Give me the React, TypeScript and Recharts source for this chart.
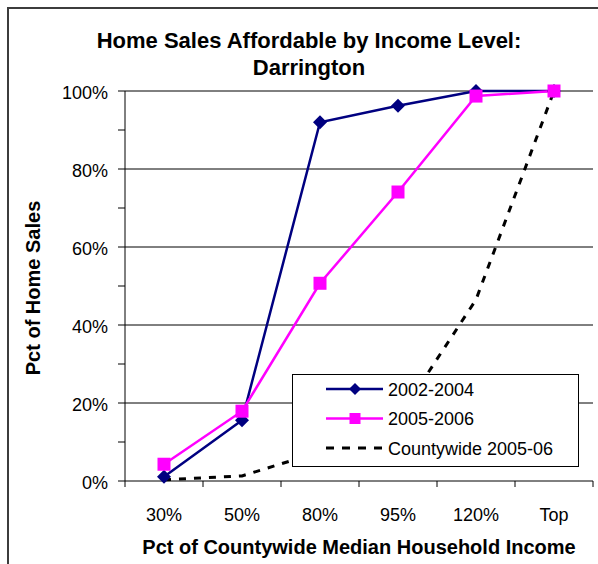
import React from 'react';
import { LineChart, Line, XAxis, YAxis, CartesianGrid, Legend } from 'recharts';

const categories = ['30%', '50%', '80%', '95%', '120%', 'Top'];
const sales2002to2004 = [1.1, 15.6, 92, 96.2, 100, 100];
const sales2005to2006 = [4.3, 17.9, 50.7, 74.1, 98.7, 100];
const countywide2005to06 = [0.3, 1.3, 7.5, 16, 46.5, 100];
const yTicks = [0, 10, 20, 30, 40, 50, 60, 70, 80, 90, 100];
const gridValues = [20, 40, 60, 80, 100];
const seriesNames = ['2002-2004', '2005-2006', 'Countywide 2005-06'];

const NAVY = '#000080';
const MAGENTA = '#FF00FF';
const FONT = '"Liberation Sans", Arial, Helvetica, sans-serif';
const HALF_STEP = 39; // half a category width: Excel puts x ticks between categories

const data = categories.map((cat, i) => ({
  cat,
  early: sales2002to2004[i],
  late: sales2005to2006[i],
  county: countywide2005to06[i],
}));

const renderDiamond = (p: any) => (
  <path
    key={`d${p.index}`}
    d={`M${p.cx},${p.cy - 7}L${p.cx + 7},${p.cy}L${p.cx},${p.cy + 7}L${p.cx - 7},${p.cy}Z`}
    fill={NAVY}
  />
);

const renderSquare = (p: any) => (
  <rect key={`s${p.index}`} x={p.cx - 6.5} y={p.cy - 6.5} width={13} height={13} fill={MAGENTA} />
);

const XTick = (props: any) => {
  const { x, y, payload, index } = props;
  const last = index === categories.length - 1;
  return (
    <g>
      <line x1={x - HALF_STEP} x2={x - HALF_STEP} y1={y} y2={y + 6} stroke="#000" />
      {last && <line x1={x + HALF_STEP} x2={x + HALF_STEP} y1={y} y2={y + 6} stroke="#000" />}
      <text x={x} y={y + 40} textAnchor="middle" fontSize={18} fontFamily={FONT} fill="#000">
        {payload.value}
      </text>
    </g>
  );
};

const YTick = (props: any) => {
  const { x, y, payload } = props;
  if (payload.value % 20 !== 0) return <g />;
  return (
    <text x={x} y={y + 8} textAnchor="end" fontSize={18} fontFamily={FONT} fill="#000">
      {`${payload.value}%`}
    </text>
  );
};

const XTitle = (props: any) => {
  const vb = props.viewBox || { x: 0, y: 0, width: 0, height: 0 };
  return (
    <text x={vb.x + vb.width / 2} y={vb.y + 73} textAnchor="middle" fontSize={20} fontWeight="bold" fontFamily={FONT} fill="#000">
      Pct of Countywide Median Household Income
    </text>
  );
};

const YTitle = (props: any) => {
  const vb = props.viewBox || { x: 0, y: 0, width: 0, height: 0 };
  const cx = vb.x + 40;
  const cy = vb.y + vb.height / 2 + 2;
  return (
    <text x={cx} y={cy} transform={`rotate(-90, ${cx}, ${cy})`} textAnchor="middle" fontSize={20} fontWeight="bold" fontFamily={FONT} fill="#000">
      Pct of Home Sales
    </text>
  );
};

const legendStyles = [
  { stroke: NAVY, dash: undefined, marker: 'diamond' },
  { stroke: MAGENTA, dash: undefined, marker: 'square' },
  { stroke: '#000', dash: '8 8', marker: 'none' },
];

const LegendBox = () => (
  <div style={{ width: 287, height: 93, boxSizing: 'border-box', border: '1px solid #000', background: '#fff' }}>
    <svg width={285} height={91} style={{ display: 'block' }}>
      {seriesNames.map((name, i) => {
        const st = legendStyles[i];
        const cy = 14 + i * 29.5;
        return (
          <g key={name}>
            <line x1={33} x2={90} y1={cy} y2={cy} stroke={st.stroke} strokeWidth={st.dash ? 3 : 2.5} strokeDasharray={st.dash} />
            {st.marker === 'diamond' && <path d={`M62,${cy - 6}L68,${cy}L62,${cy + 6}L56,${cy}Z`} fill={NAVY} />}
            {st.marker === 'square' && <rect x={56.5} y={cy - 5.5} width={11} height={11} fill={MAGENTA} />}
            <text x={95} y={cy + 6.5} fontSize={18} fontFamily={FONT} fill="#000">
              {name}
            </text>
          </g>
        );
      })}
    </svg>
  </div>
);

export default function App() {
  return (
    <div style={{ position: 'fixed', left: 0, top: 0, width: 598, height: 564, overflow: 'hidden', background: '#fff' }}>
      <div style={{ position: 'absolute', left: 7, top: 7, width: 700, height: 700, borderLeft: '2px solid #3c3c3c', borderTop: '2px solid #3c3c3c' }} />
      <svg width={598} height={90} style={{ position: 'absolute', left: 0, top: 0 }}>
        <text x={309} y={48} textAnchor="middle" fontSize={22} fontWeight="bold" fontFamily={FONT} fill="#000">
          Home Sales Affordable by Income Level:
        </text>
        <text x={309} y={75} textAnchor="middle" fontSize={22} fontWeight="bold" fontFamily={FONT} fill="#000">
          Darrington
        </text>
      </svg>
      <div style={{ position: 'absolute', left: 0, top: 0 }}>
        <LineChart width={598} height={564} data={data} margin={{ top: 91, right: 5, bottom: 0, left: 0 }}>
          <CartesianGrid vertical={false} horizontalValues={gridValues} stroke="#000" strokeWidth={1} />
          <XAxis
            dataKey="cat"
            height={83}
            interval={0}
            padding={{ left: HALF_STEP, right: HALF_STEP }}
            tickLine={false}
            tickSize={0}
            tickMargin={0}
            axisLine={{ stroke: '#000' }}
            tick={<XTick />}
            label={XTitle}
          />
          <YAxis
            width={125}
            domain={[0, 100]}
            ticks={yTicks}
            interval={0}
            tickSize={7}
            tickMargin={10}
            tickLine={{ stroke: '#000' }}
            axisLine={{ stroke: '#000' }}
            tick={<YTick />}
            label={YTitle}
          />
          <YAxis yAxisId="frame" orientation="right" width={0} domain={[0, 100]} tick={false} tickLine={false} axisLine={{ stroke: '#000' }} />
          <Legend
            layout="horizontal"
            verticalAlign="middle"
            width={287}
            height={93}
            content={<LegendBox />}
            wrapperStyle={{ left: 292, top: 374, width: 287, height: 93 }}
          />
          <Line dataKey="county" name={seriesNames[2]} stroke="#000" strokeWidth={3} strokeDasharray="7 8" dot={false} activeDot={false} legendType="none" isAnimationActive={false} />
          <Line dataKey="early" name={seriesNames[0]} stroke={NAVY} strokeWidth={2.5} dot={renderDiamond} activeDot={false} isAnimationActive={false} />
          <Line dataKey="late" name={seriesNames[1]} stroke={MAGENTA} strokeWidth={2.5} dot={renderSquare} activeDot={false} isAnimationActive={false} />
        </LineChart>
      </div>
    </div>
  );
}
